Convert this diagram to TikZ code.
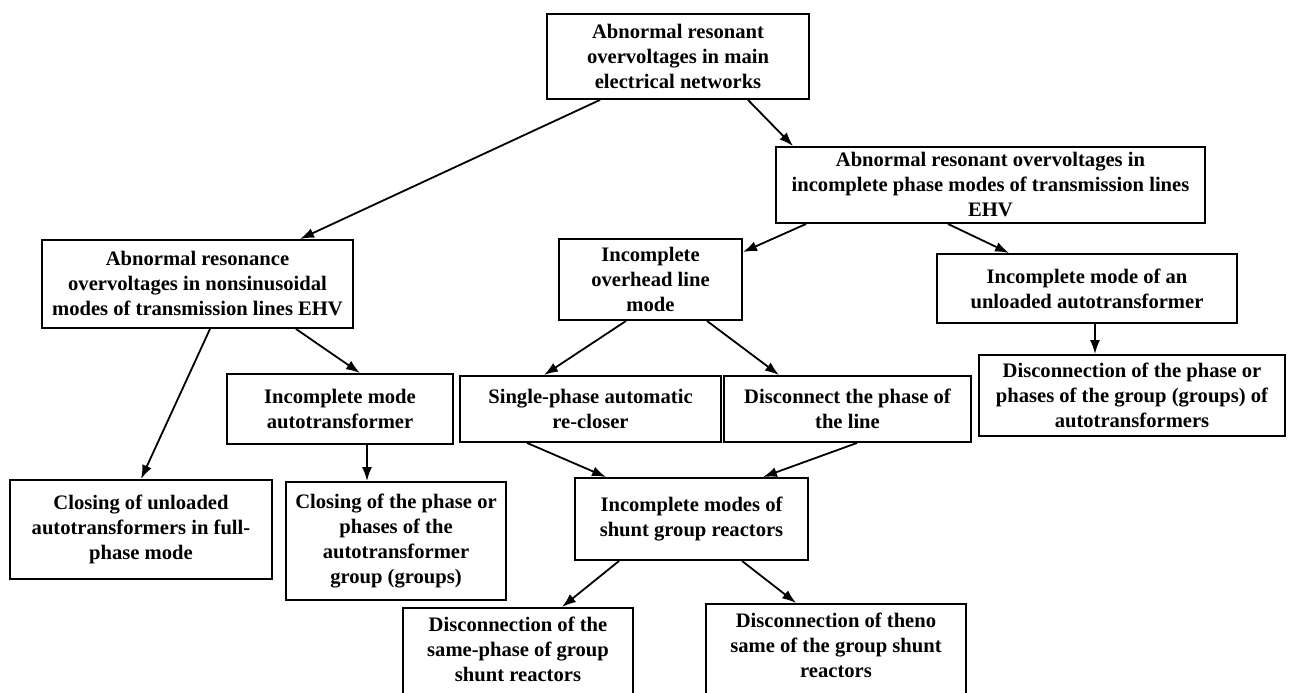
\documentclass[tikz,border=0pt]{standalone}
\usepackage{fontspec}
\setmainfont{Liberation Serif}
\usetikzlibrary{ arrows.meta, % For the filled arrow tips
               }
\tikzstyle{box} = [rectangle, draw=black, line width=1.9pt, align=center, inner sep=0pt, font=\bfseries\fontsize{20.6}{25}\selectfont]
\tikzstyle{link} = [-{Latex[length=14pt,width=10pt]}, line width=1.8pt]

\begin{document}
\begin{tikzpicture}[x=1pt, y=-1pt]
  \useasboundingbox (0, 0) rectangle (1291, 693);

  % top levels
  \node (root) [box, minimum width=262, minimum height=85] at (678, 56.5) {Abnormal resonant\\overvoltages in main\\electrical networks};
  \node (ov) [box, minimum width=429, minimum height=76] at (990.5, 185) {Abnormal resonant overvoltages in\\incomplete phase modes of transmission lines\\EHV};
  \node (nonsin) [box, minimum width=311, minimum height=88] at (197.5, 284) {Abnormal resonance\\overvoltages in nonsinusoidal\\modes of transmission lines EHV};
  \node (overhead) [box, minimum width=183, minimum height=81] at (650.5, 279.5) {Incomplete\\overhead line\\mode};
  \node (unloaded) [box, minimum width=300, minimum height=69] at (1087, 288.5) {Incomplete mode of an\\unloaded autotransformer};
  \node (discauto) [box, minimum width=306, minimum height=81] at (1132, 395.5) {Disconnection of the phase or\\phases of the group (groups) of\\autotransformers};

  % middle row
  \node (imode) [box, minimum width=226, minimum height=70] at (340, 409) {Incomplete mode\\autotransformer};
  \node (single) [box, minimum width=261, minimum height=66] at (590.5, 409) {Single-phase automatic\\re-closer};
  \node (discline) [box, minimum width=247, minimum height=66] at (847.5, 409) {Disconnect the phase of\\the line};

  % lower rows
  \node (closeun) [box, minimum width=262, minimum height=99] at (141, 529.5) {Closing of unloaded\\autotransformers in full-\\phase mode};
  \node (closeph) [box, minimum width=220, minimum height=118] at (396, 541) {Closing of the phase or\\phases of the\\autotransformer\\group (groups)};
  \node (shunt) [box, minimum width=233, minimum height=82] at (691.5, 519) {Incomplete modes of\\shunt group reactors};
  \node (samephase) [box, anchor=north, minimum width=230, inner ysep=9pt, text depth=40pt] at (518, 607) {Disconnection of the\\same-phase of group\\shunt reactors};
  \node (theno) [box, anchor=north, minimum width=260, inner ysep=9pt, text depth=40pt] at (836, 603) {Disconnection of theno\\same of the group shunt\\reactors};

  % connectors
  \coordinate (ua) at ([xshift=8pt]unloaded.south);
  \coordinate (ia) at ([xshift=27pt]imode.south);
  \path [link] ([xshift=-78pt]root.south) edge ([xshift=102.5pt]nonsin.north);
  \path [link] ([xshift=70pt]root.south) edge ([xshift=18pt]ov.north west);
  \path [link] ([xshift=31pt]ov.south west) edge ([yshift=-14pt]overhead.north east);
  \path [link] ([xshift=-42.5pt]ov.south) edge ([xshift=73pt]unloaded.north west);
  \path [link] (ua) edge (ua |- discauto.north);
  \path [link] ([xshift=12.5pt]nonsin.south) edge (closeun.north);
  \path [link] ([xshift=-58pt]nonsin.south east) edge ([xshift=20pt]imode.north);
  \path [link] ([xshift=-24.5pt]overhead.south) edge ([xshift=85pt]single.north west);
  \path [link] ([xshift=56.5pt]overhead.south) edge ([xshift=56pt]discline.north west);
  \path [link] (ia) edge (ia |- closeph.north);
  \path [link] ([xshift=68pt]single.south west) edge ([xshift=32pt]shunt.north west);
  \path [link] ([xshift=9.5pt]discline.south) edge ([xshift=-46pt]shunt.north east);
  \path [link] ([xshift=45pt]shunt.south west) edge ([xshift=44pt]samephase.north);
  \path [link] ([xshift=50.5pt]shunt.south) edge ([xshift=91pt]theno.north west);
\end{tikzpicture}
\end{document}
